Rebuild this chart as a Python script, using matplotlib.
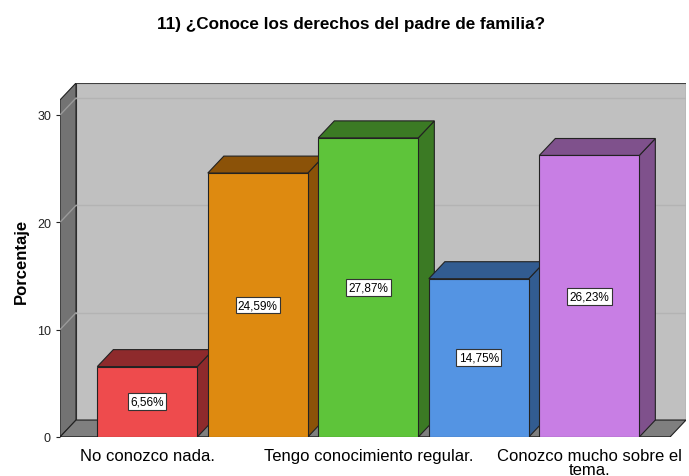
import matplotlib.pyplot as plt
from matplotlib.patches import Polygon

plt.rcParams['font.family'] = ['Liberation Sans', 'DejaVu Sans']

# datos
tick_labels = ["No conozco nada.", "", "Tengo conocimiento regular.", "",
               "Conozco mucho sobre el\ntema."]
porcentajes = [6.56, 24.59, 27.87, 14.75, 26.23]
etiquetas = ["6,56%", "24,59%", "27,87%", "14,75%", "26,23%"]
frente = ["#ee4b4d", "#de8a10", "#5ec43a", "#5494e3", "#c87ee4"]
oscuro = ["#8e2a2c", "#8b5208", "#3b7a24", "#325c91", "#7f518c"]

fig = plt.figure(figsize=(6.89, 4.77), dpi=100)
W, H = 689, 477
ax = fig.add_axes([60 / W, (H - 438) / H, (686 - 60) / W, (438 - 84) / H])

x0, x1 = -0.79, 4.73   # plano frontal
dx, dy = 0.145, 1.58   # profundidad 3D
ytop = 31.4
bw = 0.905

ax.set_xlim(x0, x1 + dx)
ax.set_ylim(0, ytop + dy)
for s in ax.spines.values():
    s.set_visible(False)
ax.set_facecolor('none')

# paredes
ax.add_patch(Polygon([(x0 + dx, dy), (x1 + dx, dy), (x1 + dx, ytop + dy), (x0 + dx, ytop + dy)],
                     closed=True, fc="#c0c0c0", ec="#404040", lw=0.8, zorder=1))
ax.add_patch(Polygon([(x0, 0), (x0 + dx, dy), (x0 + dx, ytop + dy), (x0, ytop)],
                     closed=True, fc="#737373", ec="#202020", lw=0.8, zorder=1))
ax.add_patch(Polygon([(x0, 0), (x1, 0), (x1 + dx, dy), (x0 + dx, dy)],
                     closed=True, fc="#7f7f7f", ec="#202020", lw=0.8, zorder=1))
for g in [10, 20, 30]:
    ax.plot([x0 + dx, x1 + dx], [g + dy, g + dy], color="#b3b3b3", lw=1, zorder=1.5)
    ax.plot([x0, x0 + dx], [g, g + dy], color="#9a9a9a", lw=1, zorder=1.5)
ax.plot([x0, x1], [0, 0], color="black", lw=1, zorder=1.6)

# barras
for i, v in enumerate(porcentajes):
    l, r = i - bw / 2, i + bw / 2
    ax.add_patch(Polygon([(r, 0), (r + dx, dy), (r + dx, v + dy), (r, v)],
                         closed=True, fc=oscuro[i], ec="#222222", lw=0.8, zorder=2 + i))
    ax.add_patch(Polygon([(l, v), (r, v), (r + dx, v + dy), (l + dx, v + dy)],
                         closed=True, fc=oscuro[i], ec="#222222", lw=0.8, zorder=2 + i))
    ax.add_patch(Polygon([(l, 0), (r, 0), (r, v), (l, v)],
                         closed=True, fc=frente[i], ec="#222222", lw=0.8, zorder=2 + i))
    ax.text(i, v / 2, etiquetas[i], ha="center", va="center", fontsize=8.5, zorder=10,
            bbox=dict(boxstyle="square,pad=0.2", fc="white", ec="#333333", lw=0.8))

ax.set_yticks([0, 10, 20, 30])
ax.tick_params(axis='y', length=3, labelsize=9, colors="#222222")
ax.set_xticks(range(len(tick_labels)))
ax.set_xticklabels(tick_labels, fontsize=12, linespacing=0.9)
ax.tick_params(axis='x', length=0, pad=8)
ax.set_ylabel("Porcentaje", fontsize=12, fontweight="bold", labelpad=6)

fig.text(351 / W, 1 - 25 / H, "11) ¿Conoce los derechos del padre de familia?",
         ha="center", va="center", fontsize=12.3, fontweight="bold")

fig.savefig("out.png", dpi=100)
